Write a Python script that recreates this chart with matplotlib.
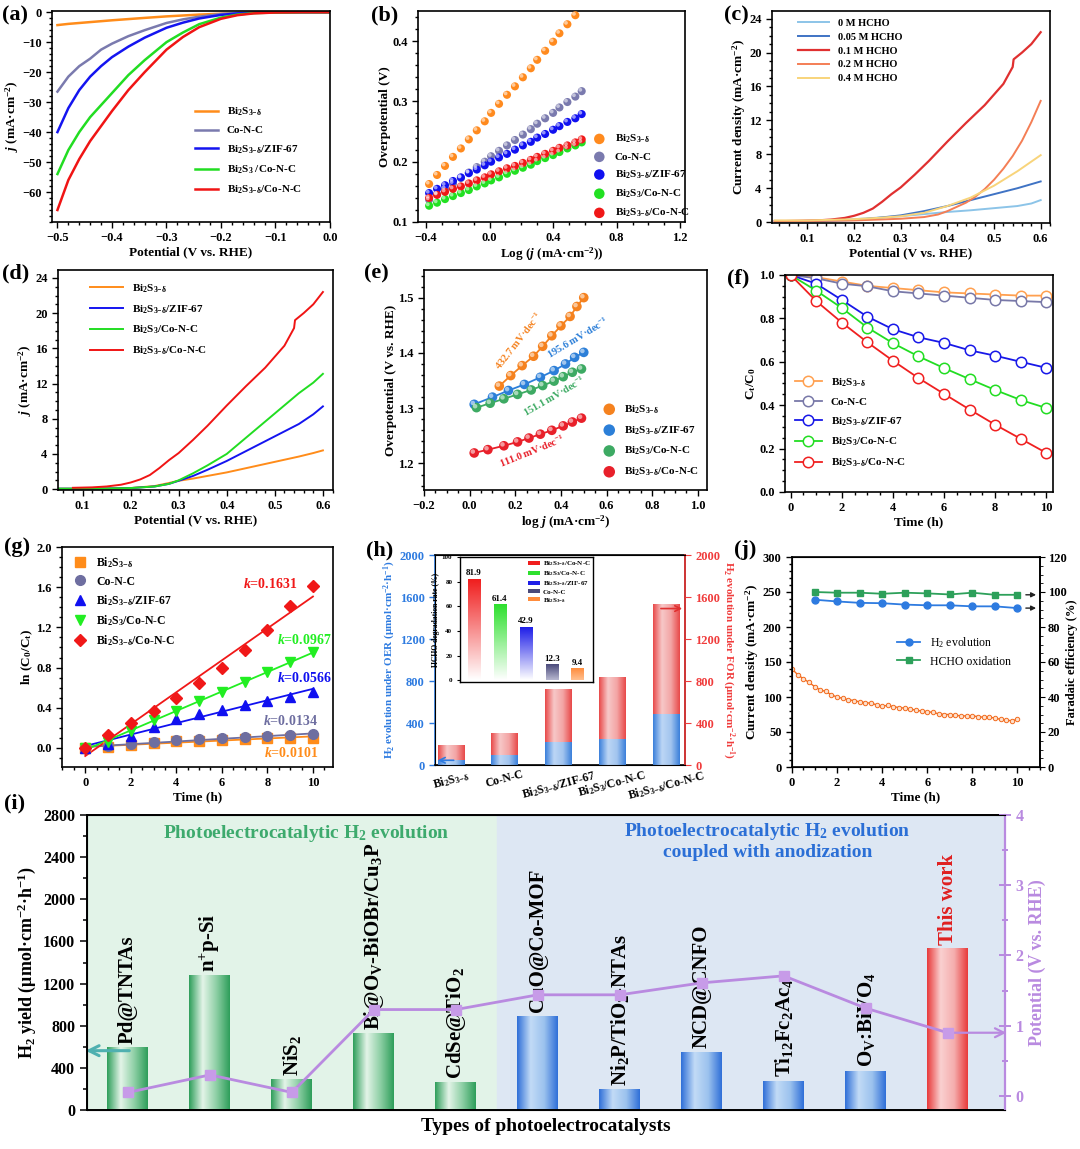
import numpy as np
import matplotlib
matplotlib.use('Agg')
import matplotlib.pyplot as plt
from matplotlib.colors import LinearSegmentedColormap
from matplotlib import transforms

plt.rcParams['font.family'] = ['Liberation Serif', 'DejaVu Serif']
plt.rcParams['font.weight'] = 'bold'
plt.rcParams['axes.labelweight'] = 'bold'
plt.rcParams['mathtext.fontset'] = 'custom'
plt.rcParams['mathtext.default'] = 'regular'
plt.rcParams['mathtext.rm'] = 'Liberation Serif:bold'
plt.rcParams['mathtext.it'] = 'Liberation Serif:italic:bold'

BSd = 'Bi$_2$S$_{3{-}δ}$'
BS3 = 'Bi$_2$S$_3$'
UNIT = '(mA·cm$^{-2}$)'

# ---------------- data ----------------
# (a) HER polarisation
a_pot = [-0.5, -0.49, -0.48, -0.46, -0.44, -0.42, -0.4, -0.37, -0.34, -0.3, -0.27, -0.24, -0.2, -0.17, -0.14, -0.1, -0.05, 0.0]
a_bis = [-4.3, -4.1, -3.9, -3.6, -3.3, -3.0, -2.7, -2.3, -1.9, -1.4, -1.1, -0.8, -0.5, -0.3, -0.15, -0.05, 0, 0]
a_conc = [-26.5, -24, -21.5, -18, -15.5, -12.5, -10.5, -8, -6, -3.6, -2.4, -1.5, -0.6, -0.3, -0.1, 0, 0, 0]
a_zif = [-40, -36, -32, -26, -21.5, -18, -15, -11.5, -8.5, -5.2, -3.5, -2.1, -0.9, -0.4, -0.2, -0.05, 0, 0]
a_bs3 = [-54, -50, -46, -40, -35, -31, -27, -21, -16, -10, -6.8, -4.0, -1.8, -0.8, -0.3, -0.1, 0, 0]
a_best = [-66, -61, -56, -49, -43, -38, -33, -26, -20, -12.5, -8.3, -5.0, -2.2, -1.0, -0.4, -0.1, 0, 0]

# (b) Tafel
b_x = [-0.38, -0.33, -0.28, -0.23, -0.18, -0.13, -0.08, -0.03, 0.01, 0.06, 0.11, 0.16, 0.21, 0.26, 0.30, 0.35, 0.40, 0.44, 0.49, 0.54, 0.58]
b_bis = [0.163, 0.178, 0.193, 0.208, 0.222, 0.237, 0.252, 0.267, 0.281, 0.296, 0.311, 0.325, 0.340, 0.355, 0.369, 0.384, 0.399, 0.413, 0.428, 0.443]
b_conc = [0.137, 0.146, 0.155, 0.164, 0.173, 0.182, 0.191, 0.200, 0.209, 0.218, 0.227, 0.236, 0.245, 0.254, 0.263, 0.272, 0.281, 0.290, 0.299, 0.308, 0.317]
b_zif = [0.148, 0.155, 0.161, 0.168, 0.174, 0.181, 0.187, 0.194, 0.200, 0.207, 0.213, 0.220, 0.227, 0.233, 0.240, 0.246, 0.253, 0.259, 0.266, 0.272, 0.279]
b_bs3 = [0.127, 0.132, 0.138, 0.143, 0.148, 0.153, 0.159, 0.164, 0.169, 0.174, 0.180, 0.185, 0.190, 0.195, 0.201, 0.206, 0.211, 0.216, 0.222, 0.227, 0.232]
b_best = [0.140, 0.145, 0.150, 0.155, 0.159, 0.164, 0.169, 0.174, 0.179, 0.184, 0.189, 0.193, 0.198, 0.203, 0.208, 0.213, 0.218, 0.223, 0.227, 0.232, 0.237]

# (c)/(d) FOR polarisation
red_x = [0.03, 0.08, 0.12, 0.15, 0.18, 0.2, 0.22, 0.24, 0.26, 0.28, 0.3, 0.33, 0.36, 0.4, 0.44, 0.48, 0.52, 0.54, 0.542, 0.56, 0.58, 0.6]
red_y = [0.1, 0.15, 0.2, 0.3, 0.5, 0.75, 1.1, 1.6, 2.4, 3.3, 4.1, 5.6, 7.2, 9.5, 11.7, 13.8, 16.3, 18.3, 19.2, 20.0, 21.0, 22.4]
c02_x = [0.03, 0.1, 0.2, 0.25, 0.3, 0.35, 0.38, 0.4, 0.42, 0.44, 0.46, 0.48, 0.5, 0.52, 0.54, 0.56, 0.58, 0.6]
c02_y = [0.15, 0.15, 0.2, 0.3, 0.4, 0.6, 0.9, 1.3, 1.8, 2.3, 3.0, 3.9, 5.0, 6.3, 7.8, 9.6, 11.8, 14.3]
c04_x = [0.03, 0.1, 0.2, 0.25, 0.3, 0.35, 0.4, 0.45, 0.5, 0.55, 0.6]
c04_y = [0.2, 0.2, 0.35, 0.5, 0.7, 1.1, 1.9, 2.9, 4.3, 6.0, 7.9]
c005_y = [0.1, 0.1, 0.25, 0.5, 0.8, 1.3, 1.9, 2.6, 3.3, 4.0, 4.8]
c0_x = [0.03, 0.1, 0.2, 0.3, 0.35, 0.4, 0.45, 0.5, 0.55, 0.58, 0.6]
c0_y = [0.1, 0.15, 0.35, 0.7, 0.95, 1.2, 1.4, 1.65, 1.9, 2.2, 2.6]
d_x = [0.05, 0.1, 0.15, 0.2, 0.25, 0.28, 0.3, 0.33, 0.36, 0.4, 0.45, 0.5, 0.55, 0.58, 0.6]
d_bs3 = [0.05, 0.05, 0.07, 0.12, 0.3, 0.6, 1.0, 1.8, 2.7, 4.0, 6.3, 8.6, 10.9, 12.1, 13.1]
d_zif = [0.05, 0.05, 0.07, 0.12, 0.3, 0.6, 0.95, 1.5, 2.2, 3.2, 4.6, 6.0, 7.4, 8.5, 9.4]
d_bis = [0.05, 0.05, 0.07, 0.12, 0.35, 0.7, 0.95, 1.2, 1.5, 1.9, 2.5, 3.1, 3.7, 4.1, 4.4]

# (e) OER-like Tafel
e_bis_x = [0.13, 0.18, 0.23, 0.28, 0.32, 0.36, 0.40, 0.44, 0.47, 0.50]
e_bis_y = [1.340, 1.359, 1.377, 1.394, 1.412, 1.431, 1.449, 1.466, 1.484, 1.500]
e_zif_x = [0.02, 0.10, 0.17, 0.24, 0.31, 0.37, 0.42, 0.46, 0.50]
e_zif_y = [1.307, 1.320, 1.332, 1.343, 1.356, 1.368, 1.380, 1.392, 1.401]
e_bs3_x = [0.03, 0.09, 0.15, 0.21, 0.27, 0.32, 0.37, 0.41, 0.45, 0.49]
e_bs3_y = [1.301, 1.309, 1.317, 1.325, 1.333, 1.341, 1.349, 1.357, 1.365, 1.371]
e_best_x = [0.02, 0.08, 0.15, 0.21, 0.26, 0.31, 0.36, 0.41, 0.45, 0.49]
e_best_y = [1.219, 1.225, 1.232, 1.239, 1.246, 1.253, 1.260, 1.268, 1.275, 1.282]

# (f)/(g) HCHO degradation
t_h = [0, 1, 2, 3, 4, 5, 6, 7, 8, 9, 10]
f_bis = [1.0, 0.99, 0.97, 0.95, 0.94, 0.93, 0.92, 0.915, 0.91, 0.905, 0.905]
f_conc = [1.0, 0.985, 0.96, 0.948, 0.925, 0.915, 0.905, 0.895, 0.885, 0.88, 0.875]
f_zif = [1.0, 0.96, 0.885, 0.808, 0.75, 0.713, 0.687, 0.653, 0.628, 0.60, 0.572]
f_bs3 = [1.0, 0.928, 0.848, 0.758, 0.686, 0.625, 0.571, 0.52, 0.47, 0.424, 0.387]
f_best = [1.0, 0.88, 0.781, 0.69, 0.605, 0.525, 0.452, 0.38, 0.31, 0.245, 0.18]
g_bis = [0, 0.01, 0.03, 0.05, 0.065, 0.07, 0.08, 0.09, 0.095, 0.10, 0.10]
g_conc = [0, 0.015, 0.04, 0.055, 0.075, 0.085, 0.095, 0.105, 0.12, 0.125, 0.135]
g_zif = [0, 0.04, 0.12, 0.21, 0.285, 0.34, 0.375, 0.43, 0.47, 0.51, 0.56]
g_bs3 = [0, 0.06, 0.165, 0.275, 0.37, 0.47, 0.56, 0.655, 0.755, 0.855, 0.95]
g_best = [0, 0.125, 0.245, 0.37, 0.5, 0.645, 0.80, 0.97, 1.17, 1.41, 1.61]
g_k = ['0.0101', '0.0134', '0.0566', '0.0967', '0.1631']

# (h) H2 evolution bars + inset
h_cats = [BSd, 'Co-N-C', BSd + '/ZIF-67', BS3 + '/Co-N-C', BSd + '/Co-N-C']
h_oer = [45, 95, 210, 240, 485]
h_for = [185, 300, 715, 830, 1530]
ins_vals = [81.9, 61.4, 42.9, 12.3, 9.4]
ins_names = [BSd + '/Co-N-C', BS3 + '/Co-N-C', BSd + '/ZIF-67', 'Co-N-C', BSd]

# (j) stability
j_t = np.arange(0, 10.01, 0.25)
j_cur = [140, 132, 126, 121, 115, 110, 108, 103, 100, 98, 96, 95, 93, 92, 91, 89, 87, 88, 86, 85, 84,
         83, 81, 80, 79, 78, 76, 75, 75, 74, 73, 73, 73, 72, 71, 71, 70, 68, 67, 66, 68]
j_fe_t = [1, 2, 3, 4, 5, 6, 7, 8, 9, 10]
j_fe_h2 = [95.6, 94.6, 93.8, 93.6, 92.8, 92.4, 92.4, 91.8, 91.8, 90.8]
j_fe_hcho = [100, 99.6, 99.6, 99.0, 99.6, 99.2, 98.6, 99.6, 98.4, 98.4]

# (i) comparison
i_names = ['Pd@TNTAs', 'n$^{+}$p-Si', 'NiS$_2$', 'Bi@O$_V$-BiOBr/Cu$_3$P', 'CdSe@TiO$_2$', 'CuO@Co-MOF',
           'Ni$_2$P/TiO$_2$-NTAs', 'NCD@CNFO', 'Ti$_{12}$Fc$_2$Ac$_4$', 'O$_V$:BiVO$_4$', 'This work']
i_yield = [595, 1272, 291, 722, 259, 892, 196, 550, 275, 370, 1532]
i_pot = [0.05, 0.30, 0.05, 1.23, 1.23, 1.44, 1.44, 1.61, 1.71, 1.25, 0.90]

# ---------------- helpers ----------------
W, H = 1080, 1149
fig = plt.figure(figsize=(W / 100, H / 100), dpi=100)


def box(l, t, r, b):
    return [l / W, 1 - b / H, (r - l) / W, (b - t) / H]


def style(ax, fs=9):
    for s in ax.spines.values():
        s.set_linewidth(1.2)
    ax.minorticks_on()
    ax.tick_params(which='both', direction='out', top=False, right=False, labelsize=fs, width=1.0)
    ax.tick_params(which='major', length=4)
    ax.tick_params(which='minor', length=2)


def balls(ax, x, y, color, s=55, label=None):
    ax.scatter(x, y, s=s, color=color, zorder=3, label=label, edgecolors='none')
    off = transforms.offset_copy(ax.transData, fig=fig, x=-1.0, y=1.0, units='points')
    ax.scatter(x, y, s=s * 0.22, color='white', alpha=0.55, zorder=4, transform=off, edgecolors='none')


def gbar(ax, x, y0, y1, w, colors, vertical=False, z=2):
    cmap = LinearSegmentedColormap.from_list('g', colors)
    if vertical:
        img = np.linspace(0, 1, 128).reshape(-1, 1)
    else:
        img = np.linspace(0, 1, 128).reshape(1, -1)
    ax.imshow(img, cmap=cmap, extent=(x - w / 2, x + w / 2, y0, y1), aspect='auto',
              origin='lower', zorder=z, interpolation='bilinear')


def letter(x, y, s):
    fig.text(x / W, 1 - y / H, s, fontsize=16, fontweight='bold', va='top', ha='left')


leg_kw = dict(frameon=False, fontsize=8, handlelength=2.0, labelspacing=0.7)

# ---------------- (a) ----------------
ax = fig.add_axes(box(52, 11, 330, 222))
style(ax)
for y, c, lab in [(a_bis, '#FF8C1A', BSd), (a_conc, '#7A7AAE', 'Co-N-C'), (a_zif, '#1414F0', BSd + '/ZIF-67'),
                  (a_bs3, '#22DD22', BS3 + ' /Co-N-C'), (a_best, '#F01414', BSd + '/Co-N-C')]:
    ax.plot(a_pot, y, color=c, lw=1.8, label=lab)
ax.set_xlim(-0.51, 0.0)
ax.set_ylim(-70, 0.4)
ax.set_xticks([-0.5, -0.4, -0.3, -0.2, -0.1, 0.0])
ax.set_yticks([0, -10, -20, -30, -40, -50, -60])
ax.set_xlabel('Potential (V vs. RHE)', fontsize=9.5, labelpad=1)
ax.set_ylabel('$\\mathit{j}$ ' + UNIT, fontsize=9.5, labelpad=1)
ax.legend(loc='upper left', bbox_to_anchor=(0.48, 0.6), **leg_kw)
letter(2, 5, '(a)')

# ---------------- (b) ----------------
ax = fig.add_axes(box(418, 11, 685, 222))
style(ax)
bs = 34
balls(ax, b_x[:len(b_bis)], b_bis, '#FF8A1E', s=bs, label=BSd)
balls(ax, b_x, b_conc, '#7A7AAE', s=bs, label='Co-N-C')
balls(ax, b_x, b_zif, '#1010F0', s=bs, label=BSd + '/ZIF-67')
balls(ax, b_x, b_bs3, '#22E022', s=bs, label=BS3 + '/Co-N-C')
balls(ax, b_x, b_best, '#F01818', s=bs, label=BSd + '/Co-N-C')
ax.set_xlim(-0.45, 1.23)
ax.set_ylim(0.1, 0.45)
ax.set_xticks([-0.4, 0.0, 0.4, 0.8, 1.2])
ax.set_yticks([0.1, 0.2, 0.3, 0.4])
ax.set_xlabel('Log ($\\mathit{j}$ ' + UNIT + ')', fontsize=9.5, labelpad=1)
ax.set_ylabel('Overpotential (V)', fontsize=9.5, labelpad=1)
ax.legend(loc='upper left', bbox_to_anchor=(0.6, 0.47), frameon=False, fontsize=8, handletextpad=0.4,
          labelspacing=0.6, scatterpoints=1, markerscale=1.3)
letter(371, 5, '(b)')

# ---------------- (c) ----------------
ax = fig.add_axes(box(772, 11, 1050, 223))
style(ax)
ax.plot(c0_x, c0_y, color='#8CC4E8', lw=1.4, label='0 M HCHO')
ax.plot(c04_x, c005_y, color='#3F73C4', lw=1.4, label='0.05 M HCHO')
ax.plot(red_x, red_y, color='#E03030', lw=1.6, label='0.1 M HCHO')
ax.plot(c02_x, c02_y, color='#F47E55', lw=1.4, label='0.2 M HCHO')
ax.plot(c04_x, c04_y, color='#F8D47A', lw=1.4, label='0.4 M HCHO')
ax.set_xlim(0.024, 0.62)
ax.set_ylim(-0.1, 24.9)
ax.set_xticks([0.1, 0.2, 0.3, 0.4, 0.5, 0.6])
ax.set_yticks([0, 4, 8, 12, 16, 20, 24])
ax.set_xlabel('Potential (V vs. RHE)', fontsize=9.5, labelpad=1)
ax.set_ylabel('Current density ' + UNIT, fontsize=9.5, labelpad=1)
ax.legend(loc='upper left', bbox_to_anchor=(0.06, 1.01), frameon=False, fontsize=7.5, handlelength=3.0,
          labelspacing=0.45)
letter(724, 5, '(c)')

# ---------------- (d) ----------------
ax = fig.add_axes(box(58, 270, 333, 490))
style(ax)
ax.plot(d_x, d_bis, color='#FF8C1A', lw=1.4, label=BSd)
ax.plot(d_x, d_zif, color='#1414F0', lw=1.4, label=BSd + '/ZIF-67')
ax.plot(d_x, d_bs3, color='#22DD22', lw=1.4, label=BS3 + '/Co-N-C')
ax.plot(red_x[1:], red_y[1:], color='#F01414', lw=1.4, label=BSd + '/Co-N-C')
ax.set_xlim(0.049, 0.621)
ax.set_ylim(-0.1, 24.9)
ax.set_xticks([0.1, 0.2, 0.3, 0.4, 0.5, 0.6])
ax.set_yticks([0, 4, 8, 12, 16, 20, 24])
ax.set_xlabel('Potential (V vs. RHE)', fontsize=9.5, labelpad=1)
ax.set_ylabel('$\\mathit{j}$ (mA·cm$^{-2}$)', fontsize=9.5, labelpad=1)
ax.legend(loc='upper left', bbox_to_anchor=(0.08, 0.99), frameon=False, fontsize=8, handlelength=3.0,
          labelspacing=0.75)
letter(2, 263, '(d)')

# ---------------- (e) ----------------
ax = fig.add_axes(box(424, 270, 707, 490))
style(ax)
for xs, ys, c, lab in [(e_bis_x, e_bis_y, '#F5821F', BSd), (e_zif_x, e_zif_y, '#2C7FD8', BSd + '/ZIF-67'),
                       (e_bs3_x, e_bs3_y, '#3DAA63', BS3 + '/Co-N-C'), (e_best_x, e_best_y, '#E8202A', BSd + '/Co-N-C')]:
    ax.plot(xs, ys, color=c, lw=1.3, zorder=2)
    balls(ax, xs, ys, c, s=48, label=lab)
ax.text(0.215, 1.422, '432.7 mV·dec$^{-1}$', color='#F5821F', fontsize=7.5, rotation=52, ha='center', va='center',
        rotation_mode='anchor')
ax.text(0.475, 1.428, '195.6 mV·dec$^{-1}$', color='#2C7FD8', fontsize=7.5, rotation=31, ha='center', va='center',
        rotation_mode='anchor')
ax.text(0.37, 1.322, '151.1 mV·dec$^{-1}$', color='#3DAA63', fontsize=7.5, rotation=30, ha='center', va='center',
        rotation_mode='anchor')
ax.text(0.274, 1.222, '111.0 mV·dec$^{-1}$', color='#E8202A', fontsize=7.5, rotation=22, ha='center', va='center',
        rotation_mode='anchor')
ax.set_xlim(-0.2, 1.04)
ax.set_ylim(1.152, 1.55)
ax.set_xticks([-0.2, 0.0, 0.2, 0.4, 0.6, 0.8, 1.0])
ax.set_yticks([1.2, 1.3, 1.4, 1.5])
ax.set_xlabel('log $\\mathit{j}$ ' + UNIT, fontsize=9.5, labelpad=1)
ax.set_ylabel('Overpotential (V vs. RHE)', fontsize=9.5, labelpad=1)
ax.legend(loc='upper left', bbox_to_anchor=(0.58, 0.44), frameon=False, fontsize=8, handletextpad=0.3,
          labelspacing=0.75, scatterpoints=1, markerscale=1.2)
letter(364, 263, '(e)')

# ---------------- (f) ----------------
ax = fig.add_axes(box(785, 275, 1053, 492))
style(ax)
for y, c, lab in [(f_bis, '#FFA050', BSd), (f_conc, '#7878A8', 'Co-N-C'), (f_zif, '#1818E8', BSd + '/ZIF-67'),
                  (f_bs3, '#22DD22', BS3 + '/Co-N-C'), (f_best, '#F02020', BSd + '/Co-N-C')]:
    ax.plot(t_h, y, color=c, lw=1.3, marker='o', ms=7.5, mfc='white', mec=c, mew=1.1, label=lab)
ax.set_xlim(-0.22, 10.26)
ax.set_ylim(0, 1.0)
ax.set_xticks([0, 2, 4, 6, 8, 10])
ax.set_yticks([0.0, 0.2, 0.4, 0.6, 0.8, 1.0])
ax.set_xlabel('Time (h)', fontsize=9.5, labelpad=1)
ax.set_ylabel('C$_t$/C$_0$', fontsize=9.5, labelpad=1)
ax.legend(loc='upper left', bbox_to_anchor=(0.0, 0.58), frameon=False, fontsize=8, handlelength=2.4,
          labelspacing=0.75)
letter(727, 268, '(f)')

# ---------------- (g) ----------------
ax = fig.add_axes(box(62, 547, 333, 767))
style(ax)
g_series = [(g_bis, '#FF8C1A', 's', BSd), (g_conc, '#6E6EA0', 'o', 'Co-N-C'), (g_zif, '#1010F0', '^', BSd + '/ZIF-67'),
            (g_bs3, '#22EE22', 'v', BS3 + '/Co-N-C'), (g_best, '#F01818', 'D', BSd + '/Co-N-C')]
for y, c, m, lab in g_series:
    p = np.polyfit(t_h, y, 1)
    ax.plot([t_h[0], t_h[-1]], np.polyval(p, [t_h[0], t_h[-1]]), color=c, lw=1.3, zorder=2)
    ax.plot(t_h, y, ls='none', marker=m, ms=7 if m != 'D' else 6.5, color=c, label=lab, zorder=3)
for (y, c, m, lab), k, (tx, ty) in zip(g_series, g_k, [(9.05, -0.05), (9.0, 0.27), (9.6, 0.70), (9.6, 1.07), (8.1, 1.63)]):
    ax.text(tx, ty, '$\\mathit{k}$=' + k, color=c, fontsize=10, ha='center', va='center')
ax.set_xlim(-1.02, 10.88)
ax.set_ylim(-0.19, 2.0)
ax.set_xticks([0, 2, 4, 6, 8, 10])
ax.set_yticks([0.0, 0.4, 0.8, 1.2, 1.6, 2.0])
ax.set_xlabel('Time (h)', fontsize=9.5, labelpad=1)
ax.set_ylabel('ln (C$_0$/C$_t$)', fontsize=9.5, labelpad=1)
ax.legend(loc='upper left', bbox_to_anchor=(0.0, 1.01), frameon=False, fontsize=8.5, handlelength=1.2,
          labelspacing=0.45)
letter(4, 537, '(g)')

# ---------------- (h) ----------------
ax = fig.add_axes(box(435, 555, 685, 765))
style(ax)
ax.minorticks_off()
red_cols = ['#E84848', '#F7C8C8', '#F3A5A5', '#E84848']
blue_cols = ['#3A7FDA', '#BCD6F5', '#A3C5EF', '#3A7FDA']
for i in range(len(h_cats)):
    gbar(ax, i, 0, h_for[i], 0.5, red_cols)
    gbar(ax, i, 0, h_oer[i], 0.5, blue_cols, z=3)
ax.set_xlim(-0.3, 4.35)
ax.set_ylim(0, 2000)
ax.set_xticks(range(len(h_cats)))
ax.set_xticklabels(h_cats, rotation=15, fontsize=8.5)
ax.tick_params(axis='x', length=0, pad=2)
ax.set_yticks([0, 400, 800, 1200, 1600, 2000])
ax.tick_params(axis='y', colors='#2E7BE0', labelsize=9)
ax.spines['left'].set_color('#2E7BE0')
ax.set_ylabel('H$_2$ evolution under OER (μmol·cm$^{-2}$·h$^{-1}$)', color='#2E7BE0', fontsize=8, labelpad=1)
axr = ax.twinx()
axr.set_ylim(0, 2000)
axr.set_yticks([0, 400, 800, 1200, 1600, 2000])
axr.tick_params(axis='y', colors='#F03C3C', labelsize=9, direction='out', length=4)
axr.spines['right'].set_color('#F03C3C')
axr.spines['right'].set_linewidth(1.2)
axr.set_ylabel('H$_2$ evolution under FOR (μmol·cm$^{-2}$·h$^{-1}$)', color='#F03C3C', fontsize=8,
               rotation=270, labelpad=11)
ax.annotate('', xy=(-0.3, h_oer[0]), xytext=(0.1, h_oer[0]),
            arrowprops=dict(arrowstyle='->', color='#2E7BE0', lw=1.2), zorder=5)
ax.annotate('', xy=(4.35, 1490), xytext=(3.85, 1490),
            arrowprops=dict(arrowstyle='->', color='#E03030', lw=1.2), zorder=5)
letter(366, 540, '(h)')

# inset
axi = fig.add_axes(box(460, 557, 593, 682))
for s in axi.spines.values():
    s.set_linewidth(1.0)
ins_cols = ['#F01E1E', '#2EE02E', '#1E1EE8', '#4A4A7A', '#FF8C3C']
for i, (v, c) in enumerate(zip(ins_vals, ins_cols)):
    lo = '#FFFFFF' if v > 30 else '#B8B8D0' if c == '#4A4A7A' else '#FFC090'
    gbar(axi, i, 0, v, 0.48, [lo, c], vertical=True)
    axi.text(i, v + 1.5, f'{v}', ha='center', va='bottom', fontsize=6.5)
    axi.bar([0], [0], color=c, label=ins_names[i])
axi.set_xlim(-0.54, 4.59)
axi.set_ylim(-1.5, 100)
axi.set_xticks([])
axi.set_yticks([0, 20, 40, 60, 80, 100])
axi.tick_params(axis='y', labelsize=5, length=2, direction='out', width=0.8)
axi.set_ylabel('HCHO degradation rate (%)', fontsize=5.5, labelpad=1)
axi.legend(loc='upper right', bbox_to_anchor=(1.03, 1.03), frameon=False, fontsize=5, handlelength=1.8,
           handleheight=0.45, labelspacing=0.15, handletextpad=0.4)

# ---------------- (j) ----------------
ax = fig.add_axes(box(792, 557, 1040, 767))
style(ax)
ax.plot(j_t, j_cur, color='#F26B1D', lw=1.0, marker='o', ms=3.2, mfc='#FDE0CC', mec='#F26B1D', mew=0.7)
ax.set_xlim(0, 11)
ax.set_ylim(0, 300)
ax.set_xticks([0, 2, 4, 6, 8, 10])
ax.set_yticks([0, 50, 100, 150, 200, 250, 300])
ax.set_xlabel('Time (h)', fontsize=9.5, labelpad=1)
ax.set_ylabel('Current density ' + UNIT, fontsize=9.5, labelpad=1)
axr = ax.twinx()
axr.plot(j_fe_t, j_fe_h2, color='#2E7BE0', lw=1.3, marker='o', ms=5, label='H$_2$ evolution')
axr.plot(j_fe_t, j_fe_hcho, color='#2DA05A', lw=1.3, marker='s', ms=5, label='HCHO oxidation')
axr.set_ylim(0, 120)
axr.set_yticks([0, 20, 40, 60, 80, 100, 120])
axr.minorticks_on()
axr.tick_params(which='both', direction='out', labelsize=9, pad=2)
axr.tick_params(which='minor', length=2)
axr.spines['right'].set_linewidth(1.2)
axr.set_ylabel('Faradaic efficiency (%)', fontsize=9, rotation=90, labelpad=0)
for yv in [j_fe_hcho[-1], j_fe_h2[-1]]:
    axr.annotate('', xy=(10.95, yv), xytext=(10.25, yv), arrowprops=dict(arrowstyle='-|>', color='#222222', lw=1.0,
                                                                         mutation_scale=7))
leg = axr.legend(loc='upper left', bbox_to_anchor=(0.38, 0.68), frameon=False, handlelength=2.0,
                 labelspacing=0.5, prop={'weight': 'normal', 'size': 8.5})
letter(734, 540, '(j)')

# ---------------- (i) ----------------
ax = fig.add_axes(box(87, 815, 1005, 1110))
for s in ax.spines.values():
    s.set_linewidth(1.4)
ax.axvspan(-0.5, 4.5, color='#E2F3E8', zorder=0)
ax.axvspan(4.5, 10.7, color='#DDE7F3', zorder=0)
green_cols = ['#2E9E5A', '#E3F4E8', '#8FD0A6', '#2E9E5A']
blue2_cols = ['#2F6FD8', '#C2DBF6', '#9CC2EE', '#2F6FD8']
red2_cols = ['#E83A3A', '#FAD0D0', '#F5AEAE', '#E83A3A']
for i, v in enumerate(i_yield):
    cols = green_cols if i < 5 else red2_cols if i == 10 else blue2_cols
    gbar(ax, i, 0, v, 0.5, cols)
    ax.text(i, v + 35, i_names[i], rotation=90, ha='center', va='bottom', fontsize=15,
            color='#E02020' if i == 10 else 'black', zorder=4)
ax.set_xlim(-0.5, 10.7)
ax.set_ylim(0, 2800)
ax.set_xticks([])
ax.set_yticks(range(0, 2801, 400))
ax.yaxis.set_minor_locator(matplotlib.ticker.MultipleLocator(200))
ax.tick_params(axis='y', which='both', direction='out', labelsize=11.5, width=1.1)
ax.tick_params(axis='y', which='major', length=5)
ax.tick_params(axis='y', which='minor', length=3)
ax.set_ylabel('H$_2$ yield (μmol·cm$^{-2}$·h$^{-1}$)', fontsize=13, labelpad=4)
ax.set_xlabel('Types of photoelectrocatalysts', fontsize=14, labelpad=6)
ax.text(2.18, 2627, 'Photoelectrocatalytic H$_2$ evolution', color='#3DAA6D', fontsize=14, ha='center',
        va='center', zorder=4)
ax.text(7.8, 2745, 'Photoelectrocatalytic H$_2$ evolution\ncoupled with anodization', color='#2B6FD6',
        fontsize=14, ha='center', va='top', linespacing=1.15, zorder=4)
ax.annotate('', xy=(-0.55, 563), xytext=(0.05, 563),
            arrowprops=dict(arrowstyle='->', color='#4FB0B0', lw=2.2, mutation_scale=18), zorder=5,
            annotation_clip=False)
axr = ax.twinx()
axr.plot(range(len(i_pot)), i_pot, color='#B98AE0', lw=2.0, marker='s', ms=7, mfc='#C79BE8', mec='#C79BE8',
         zorder=5)
axr.set_ylim(-0.2, 4.0)
axr.set_yticks([0, 1, 2, 3, 4])
axr.yaxis.set_minor_locator(matplotlib.ticker.MultipleLocator(0.5))
axr.tick_params(axis='y', which='both', colors='#B98AE0', labelsize=11.5, direction='inout', width=1.4)
axr.tick_params(axis='y', which='major', length=8)
axr.tick_params(axis='y', which='minor', length=5)
axr.spines['right'].set_color('#B98AE0')
axr.spines['right'].set_linewidth(1.6)
axr.set_ylabel('Potential (V vs. RHE)', color='#B98AE0', fontsize=13, labelpad=4)
axr.annotate('', xy=(10.75, 0.9), xytext=(10.0, 0.9),
             arrowprops=dict(arrowstyle='->', color='#B98AE0', lw=1.6, mutation_scale=16), annotation_clip=False)
letter(4, 793, '(i)')

fig.savefig('out.png', dpi=100)
